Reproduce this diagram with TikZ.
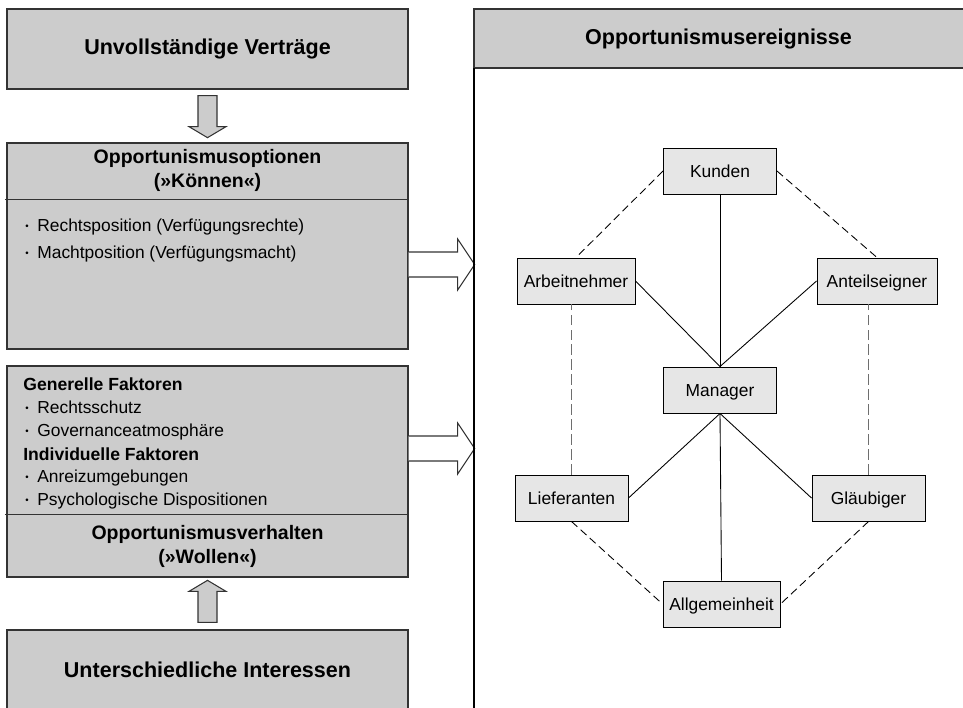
\documentclass[tikz,border=0pt]{standalone}
\usepackage{fontspec}
\setmainfont{Liberation Sans}
\setsansfont{Liberation Sans}
\usetikzlibrary{positioning}
\usetikzlibrary{calc}

\definecolor{boxgray}{HTML}{CCCCCC}
\definecolor{nodegray}{HTML}{E6E6E6}
\definecolor{framegray}{HTML}{333333}
\definecolor{dashgray}{HTML}{6E6E6E}

\newcommand{\itemdot}{\llap{\raisebox{0.9pt}{\fontsize{5.5}{5}\selectfont•}\hspace{1.7mm}}}

\begin{document}
\begin{tikzpicture}[font=\sffamily,
panel/.style={draw=framegray,line width=0.75pt,fill=boxgray,minimum width=8.02cm,inner sep=0pt,align=center},
bigtitle/.style={font=\sffamily\bfseries\fontsize{12.25}{14}\selectfont},
midtitle/.style={font=\sffamily\bfseries\fontsize{11.1}{13.6}\selectfont,align=center},
item/.style={font=\sffamily\fontsize{9.9}{12}\selectfont,anchor=base west,inner sep=0pt},
itemhead/.style={item,font=\sffamily\bfseries\fontsize{10}{12}\selectfont},
actor/.style={draw,line width=0.55pt,fill=nodegray,minimum height=0.92cm,inner sep=0pt,
text height=7.2pt,text depth=0pt,font=\sffamily\fontsize{9.9}{12}\selectfont},
link/.style={line width=0.5pt},
weak/.style={line width=0.5pt,dash pattern=on 4.5pt off 2.5pt},
weakv/.style={line width=0.7pt,draw=dashgray,dash pattern=on 6pt off 2.5pt},
blockarrow/.style={draw=framegray,line width=0.6pt,line join=miter}]
\path[use as bounding box](0,0)rectangle(19.26,-14.14);
\clip(0,0)rectangle(19.26,-14.14);

%%left column
\node[panel,minimum height=1.6cm,bigtitle](vertr)at(4.15,-0.98){Unvollständige Verträge};

\node[panel,minimum height=4.12cm](optionen)at(4.15,-4.92){};
\draw[framegray,line width=0.6pt]([xshift=-0.03cm,yshift=-1.14cm]optionen.north west)
--([yshift=-1.14cm]optionen.north east);
\node[midtitle](optTitel)at([yshift=-0.57cm]optionen.north){Opportunismusoptionen\\(»Können«)};
\foreach \y/\t in {-4.62/Rechtsposition (Verfügungsrechte),-5.16/Machtposition (Verfügungsmacht)}
\node[item]at(0.74,\y){\itemdot\t};

\node[panel,minimum height=4.22cm](verhalten)at(4.15,-9.43){};
\draw[framegray,line width=0.6pt]([xshift=-0.03cm,yshift=1.26cm]verhalten.south west)
--([yshift=1.26cm]verhalten.south east);
\node[midtitle](verhTitel)at([yshift=0.63cm]verhalten.south){Opportunismusverhalten\\(»Wollen«)};
\node[itemhead](generell)at(0.46,-7.81){Generelle Faktoren};
\node[itemhead](individuell)at(0.46,-9.2){Individuelle Faktoren};
\foreach \y/\t in {-8.27/Rechtsschutz,-8.72/Governanceatmosphäre,%
-9.65/Anreizumgebungen,-10.1/Psychologische Dispositionen}
\node[item]at(0.74,\y){\itemdot\t};

\node[panel,minimum height=1.6cm,bigtitle](interessen)at(4.15,-13.4){Unterschiedliche Interessen};

%Arrows
\draw[blockarrow,fill=boxgray]([xshift=-0.19cm,yshift=-0.12cm]vertr.south)
--++(0,-0.62)--++(-0.18,0)--++(0.37,-0.22)--++(0.37,0.22)--++(-0.18,0)--++(0,0.62)--cycle;
\draw[blockarrow,fill=boxgray]([xshift=-0.19cm,yshift=0.14cm]interessen.north)
--++(0,0.62)--++(-0.18,0)--++(0.37,0.22)--++(0.37,-0.22)--++(-0.18,0)--++(0,-0.62)--cycle;
\draw[blockarrow,fill=white]([yshift=-0.12cm]optionen.east)
--++(0.98,0)--++(0,0.26)--++(0.34,-0.51)--++(-0.34,-0.51)--++(0,0.26)--++(-0.98,0);
\draw[blockarrow,fill=white]([yshift=0.71cm]verhalten.east)
--++(0.98,0)--++(0,0.26)--++(0.34,-0.51)--++(-0.34,-0.51)--++(0,0.26)--++(-0.98,0);

%%right column
\draw[framegray,line width=0.75pt,fill=boxgray](9.48,-0.18)rectangle(19.5,-1.36);
\node[bigtitle](ereignisse)at(14.37,-0.77){Opportunismusereignisse};
\draw[line width=0.75pt](9.48,-1.36)--(9.48,-14.3);

\node[actor,minimum width=2.26cm](kunden)at(14.4,-3.42){Kunden};
\node[actor,minimum width=2.36cm](arbeitnehmer)at(11.52,-5.62){Arbeitnehmer};
\node[actor,minimum width=2.4cm](anteilseigner)at(17.54,-5.62){Anteilseigner};
\node[actor,minimum width=2.26cm](manager)at(14.4,-7.8){Manager};
\node[actor,minimum width=2.26cm](lieferanten)at(11.43,-9.96){Lieferanten};
\node[actor,minimum width=2.26cm](glaeubiger)at(17.37,-9.96){Gläubiger};
\node[actor,minimum width=2.34cm](allgemeinheit)at(14.43,-12.08){Allgemeinheit};

\foreach \a in {kunden.south,arbeitnehmer.east,anteilseigner.west}
\draw[link](\a)--(manager.north);
\foreach \a in {lieferanten.east,glaeubiger.west,allgemeinheit.north}
\draw[link](manager.south)--(\a);

\draw[weak](kunden.west)--(arbeitnehmer.north);
\draw[weak](kunden.east)--(anteilseigner.north);
\draw[weak](lieferanten.south)--(allgemeinheit.west);
\draw[weak](glaeubiger.south)--(allgemeinheit.east);
\draw[weakv](lieferanten.north)--(lieferanten.north|-arbeitnehmer.south);
\draw[weakv](glaeubiger.north)--(glaeubiger.north|-anteilseigner.south);
\end{tikzpicture}
\end{document}
